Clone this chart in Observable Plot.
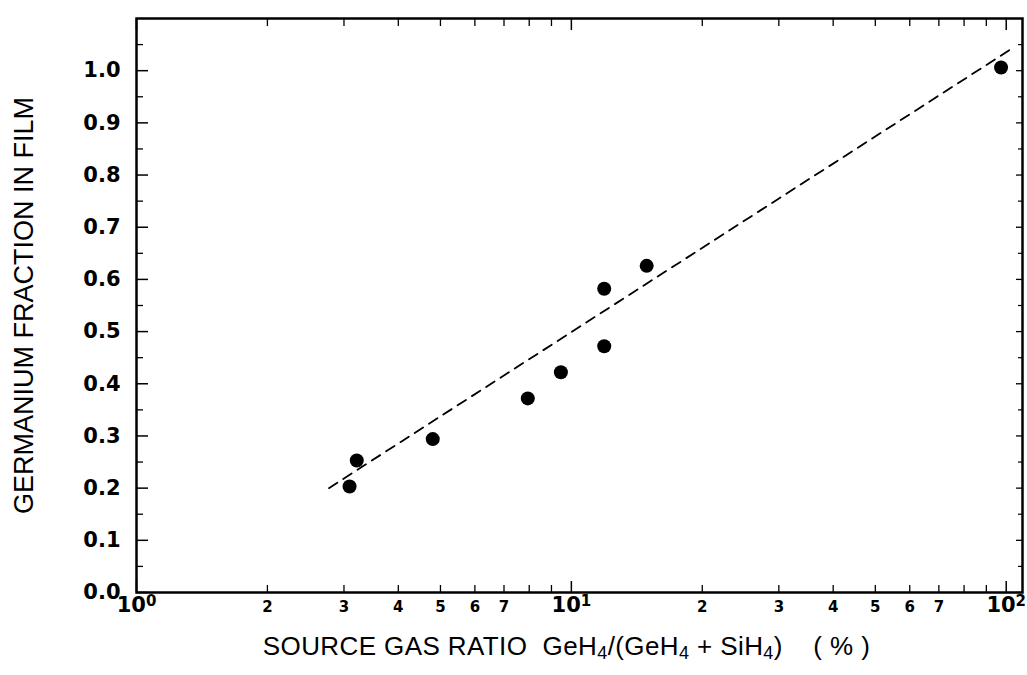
<!DOCTYPE html>
<html><head><meta charset="utf-8">
<script src="https://cdn.jsdelivr.net/npm/d3@7"></script>
<script src="https://cdn.jsdelivr.net/npm/@observablehq/plot@0.6"></script>
<style>
body{margin:0;background:#fff}
#chart svg{font-family:"Liberation Sans",Arial,Helvetica,sans-serif}
</style>
</head><body><div id="chart"></div>
<script>
// Data
const ratio    = [3.09, 3.21, 4.80, 7.94, 9.46, 11.9, 11.9, 14.9, 97.3];
const fraction = [0.203, 0.253, 0.294, 0.372, 0.422, 0.472, 0.582, 0.626, 1.006];
// dashed fit line end points
const fitRatio    = [2.77, 102];
const fitFraction = [0.20, 1.04];

// Tick values and labels
const xMajor = [1, 10, 100];
const xMajorLabels = ["10^0", "10^1", "10^2"];
const xMinor = [2, 3, 4, 5, 6, 7, 8, 9, 20, 30, 40, 50, 60, 70, 80, 90];
const xMinorLabeled = [2, 3, 4, 5, 6, 7, 20, 30, 40, 50, 60, 70];
const xMinorLabels = ["2", "3", "4", "5", "6", "7", "2", "3", "4", "5", "6", "7"];
const yMajor = [0, 0.1, 0.2, 0.3, 0.4, 0.5, 0.6, 0.7, 0.8, 0.9, 1.0];
const yMajorLabels = ["0.0", "0.1", "0.2", "0.3", "0.4", "0.5", "0.6", "0.7", "0.8", "0.9", "1.0"];
const yMinor = [0.05, 0.15, 0.25, 0.35, 0.45, 0.55, 0.65, 0.75, 0.85, 0.95, 1.05];

const yTitle = "GERMANIUM FRACTION IN FILM";
const xTitle = "SOURCE GAS RATIO  GeH_4/(GeH_4 + SiH_4)    ( % )";

const points = ratio.map((x, i) => ({x, y: fraction[i]}));
const fit = fitRatio.map((x, i) => ({x, y: fitFraction[i]}));
const tickFont = "DejaVu Sans, Verdana, sans-serif";
const titleFont = "Liberation Sans, Arial, sans-serif";

const chart = Plot.plot({
  width: 1027,
  height: 675,
  marginLeft: 136,
  marginRight: 5,
  marginTop: 18,
  marginBottom: 83,
  x: {type: "log", domain: [1, 109]},
  y: {domain: [0, 1.1]},
  style: {background: "#fff", color: "#000", fontFamily: titleFont},
  marks: [
    // tick marks (inward)
    Plot.axisX(xMajor, {anchor: "bottom", tickSize: -11, tickFormat: () => "", label: null, strokeWidth: 1.5}),
    Plot.axisX(xMinor, {anchor: "bottom", tickSize: -7, tickFormat: () => "", label: null, strokeWidth: 1.3}),
    Plot.axisX(xMajor, {anchor: "top", tickSize: -11, tickFormat: () => "", label: null, strokeWidth: 1.5}),
    Plot.axisX(xMinor, {anchor: "top", tickSize: -7, tickFormat: () => "", label: null, strokeWidth: 1.3}),
    Plot.axisY(yMajor, {anchor: "left", tickSize: -12, tickFormat: () => "", label: null, strokeWidth: 1.5}),
    Plot.axisY(yMinor, {anchor: "left", tickSize: -7, tickFormat: () => "", label: null, strokeWidth: 1.3}),
    Plot.axisY(yMajor, {anchor: "right", tickSize: -7, tickFormat: () => "", label: null, strokeWidth: 1.3}),
    Plot.axisY(yMinor, {anchor: "right", tickSize: -5, tickFormat: () => "", label: null, strokeWidth: 1.2}),
    // tick labels
    Plot.text(xMajor, {x: d => d, text: (d, i) => xMajorLabels[i], frameAnchor: "bottom", dy: 19,
      fontSize: 21, fontWeight: "bold", fontFamily: tickFont, fill: "#000"}),
    Plot.text(xMinorLabeled, {x: d => d, text: (d, i) => xMinorLabels[i], frameAnchor: "bottom", dy: 19,
      fontSize: 15, fontWeight: "bold", fontFamily: tickFont, fill: "#000"}),
    Plot.text(yMajor, {y: d => d, text: (d, i) => yMajorLabels[i], frameAnchor: "left", textAnchor: "end", dx: -16,
      fontSize: 21, fontWeight: "bold", fontFamily: tickFont, fill: "#000"}),
    Plot.frame({stroke: "#000", strokeWidth: 2.5}),
    // dashed fit line
    Plot.line(fit, {x: "x", y: "y", stroke: "#000", strokeWidth: 1.8, strokeDasharray: "10,7"}),
    // data points
    Plot.dot(points, {x: "x", y: "y", r: 7, fill: "#000", stroke: "none"}),
    // axis titles
    Plot.text([yTitle], {text: d => d, frameAnchor: "left", textAnchor: "middle", dx: -112, rotate: -90,
      fontSize: 27, fill: "#000"}),
    Plot.text([xTitle], {text: d => d, frameAnchor: "bottom", textAnchor: "middle", dx: -13, dy: 62,
      fontSize: 26, fill: "#000"})
  ]
});

// turn ^n / _n markers into raised / lowered tspans
function richText(node, size, shift) {
  const t = node.textContent;
  if (!/[\^_]\d/.test(t)) return;
  const sel = d3.select(node);
  sel.text(null).style("white-space", "pre");
  const parts = t.split(/([\^_]\d+)/).filter(p => p !== "");
  let offset = 0;
  for (const p of parts) {
    const ts = sel.append("tspan");
    if (p[0] === "^" || p[0] === "_") {
      const target = p[0] === "^" ? -shift : shift;
      ts.attr("dy", target - offset).attr("font-size", size).text(p.slice(1));
      offset = target;
    } else {
      if (offset) ts.attr("dy", -offset);
      ts.text(p);
      offset = 0;
    }
  }
}
d3.select(chart).selectAll("text").each(function() {
  const t = this.textContent;
  if (/^10\^/.test(t)) richText(this, 15, 6);
  else if (t.startsWith("SOURCE")) {
    richText(this, 18, 4);
    d3.select(this).style("letter-spacing", "0.4px");
  }
});
document.getElementById("chart").appendChild(chart);
</script>
</body></html>
